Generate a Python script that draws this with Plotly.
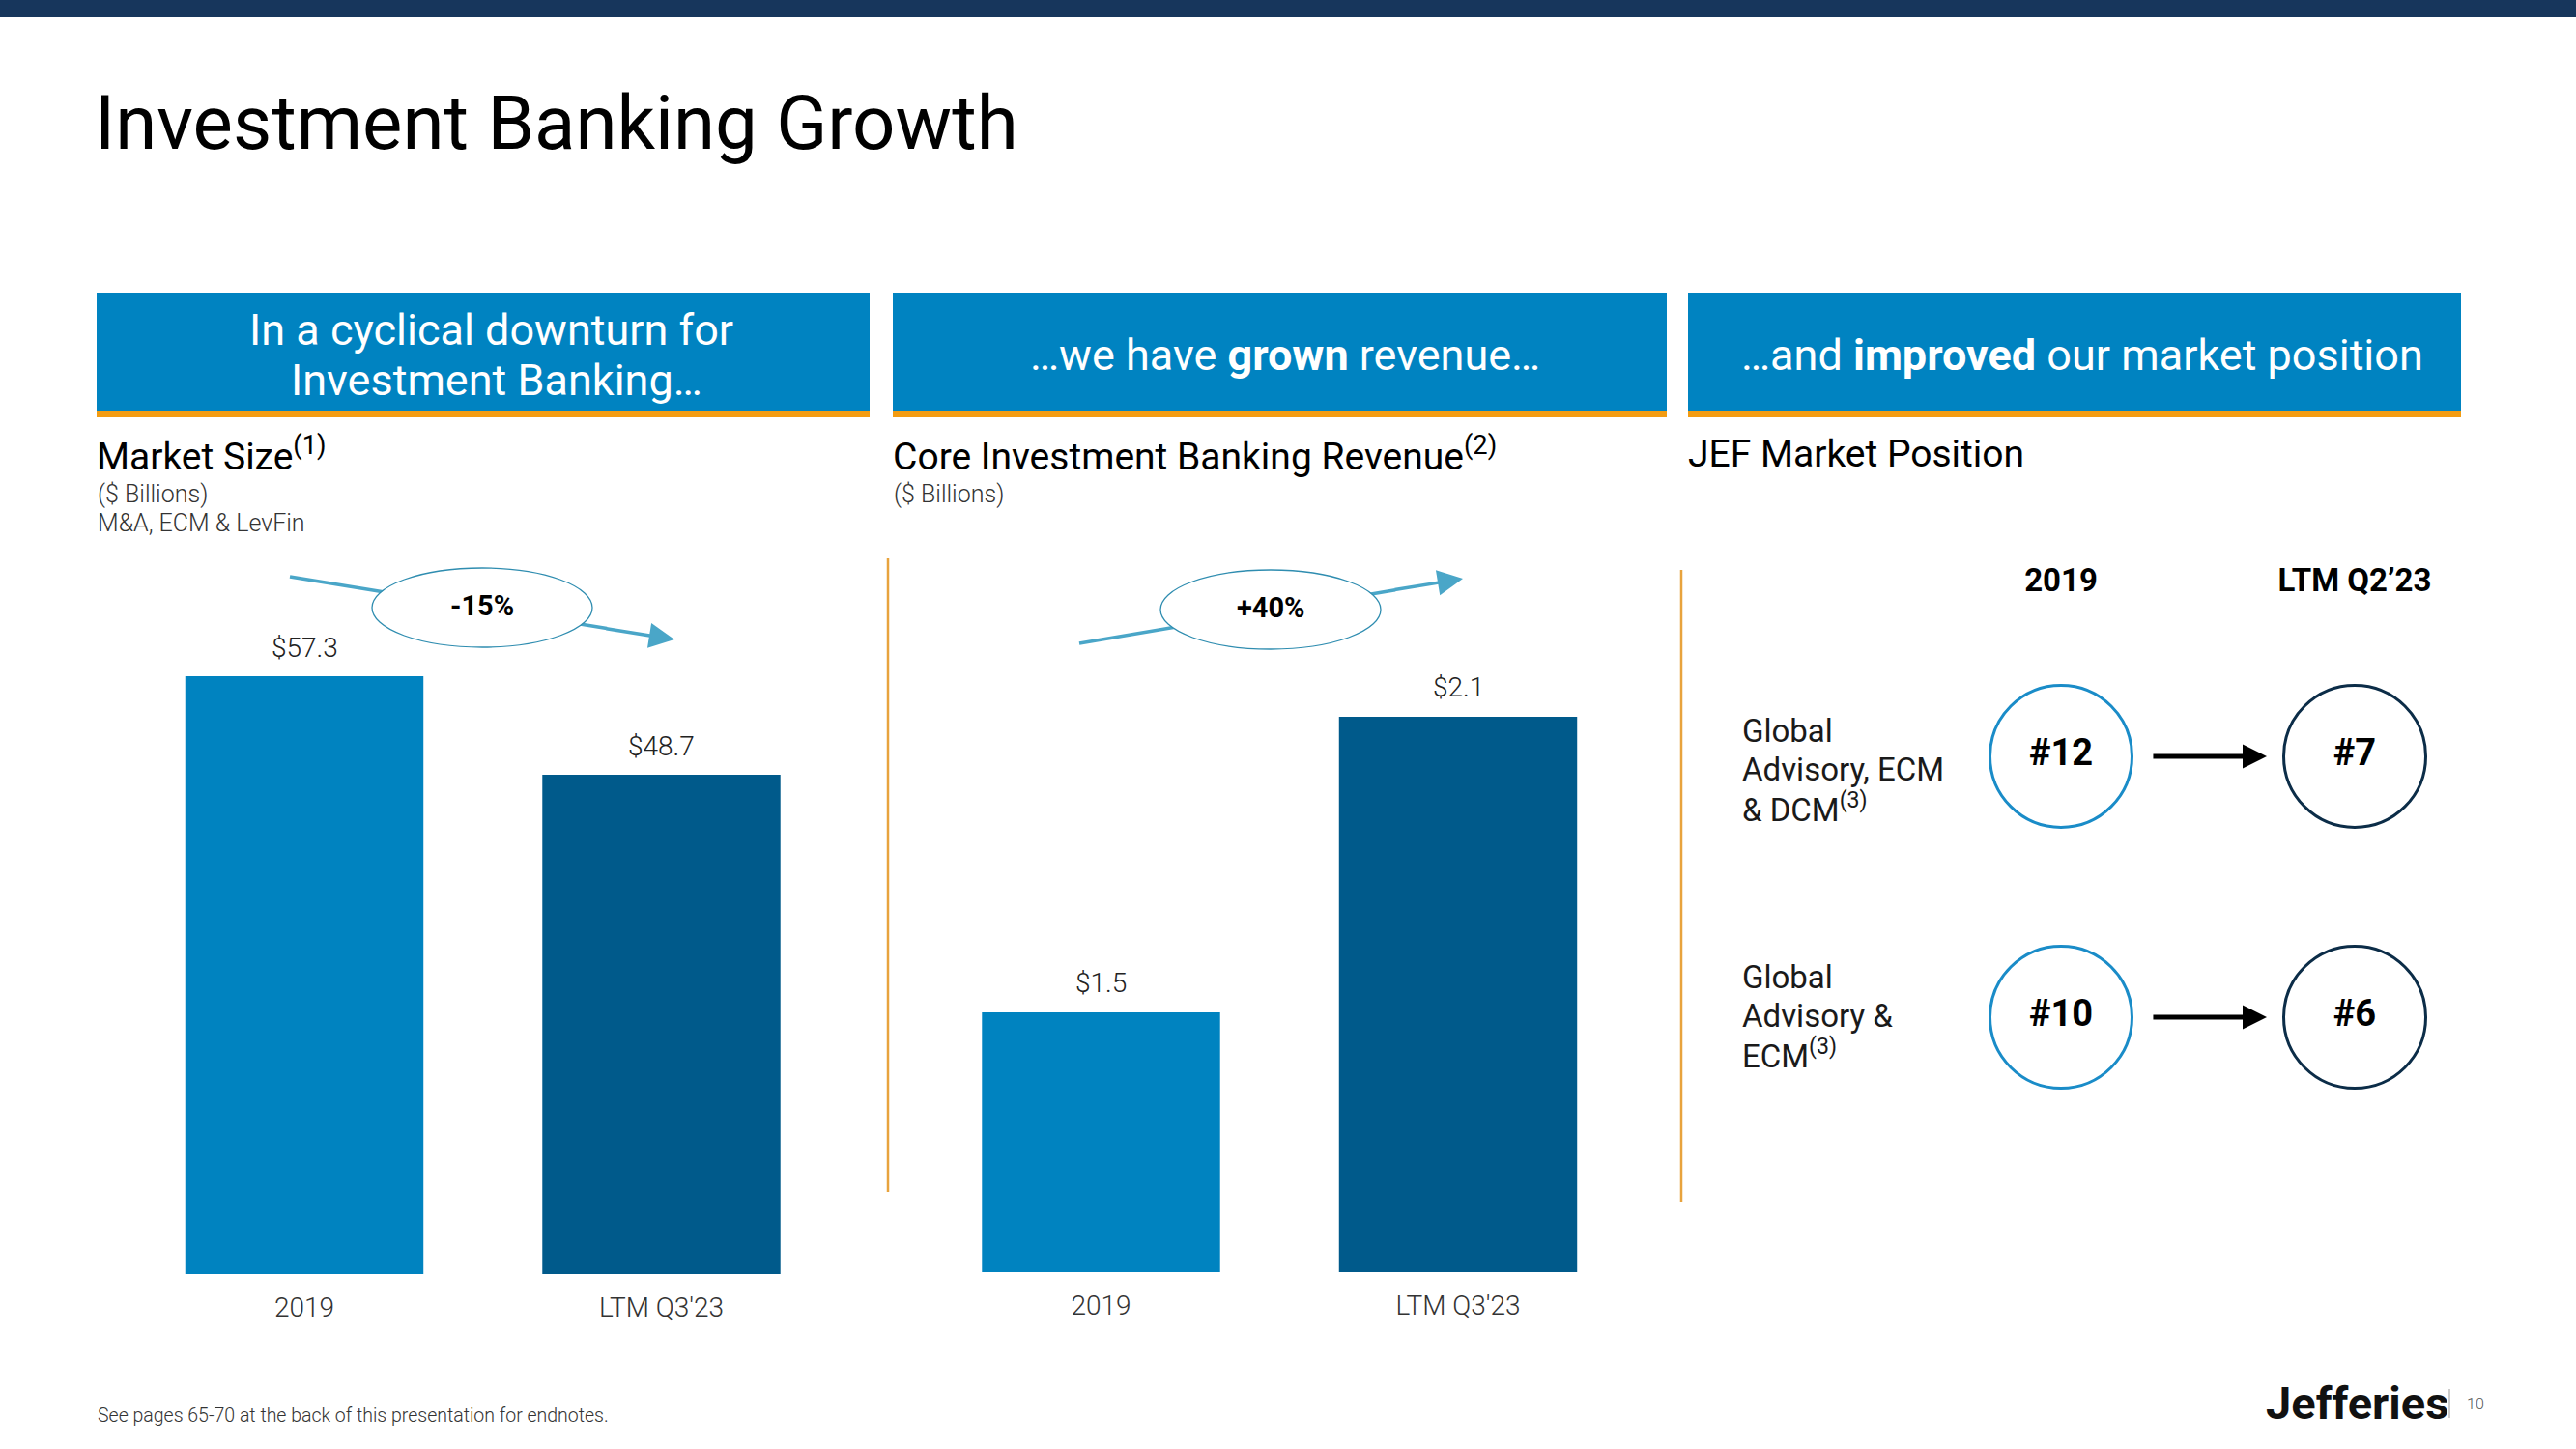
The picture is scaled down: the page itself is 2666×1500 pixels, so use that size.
import plotly.graph_objects as go

W, H = 2666, 1500

# ---------------- data ----------------
categories = ["2019", "LTM Q3'23"]
market_size = [57.3, 48.7]          # $ Billions, M&A, ECM & LevFin
core_ib_revenue = [1.5, 2.1]        # $ Billions
market_change = "-15%"
revenue_change = "+40%"

rank_periods = ["2019", "LTM Q2\u201923"]
rank_rows = [["Global", "Advisory, ECM", "& DCM<sup>(3)</sup>"],
             ["Global", "Advisory &", "ECM<sup>(3)</sup>"]]
rank_2019 = [12, 10]
rank_ltm = [7, 6]

# ---------------- styles ----------------
FONT = "Roboto"
LIGHT_BLUE = "#0083C0"
DARK_BLUE = "#005A8B"
HEADER_BLUE = "#0083C1"
ORANGE = "#F39C12"
DIVIDER = "#E8A33D"
NAVY = "#17365C"
TEAL = "#4AA6C8"


def px(x):
    return x / W


def py(y):
    return 1 - y / H


fig = go.Figure()
pos = list(range(len(categories)))

# ---------------- bar charts ----------------
fig.add_trace(go.Bar(x=pos, y=market_size, width=0.667,
                     marker=dict(color=[LIGHT_BLUE, DARK_BLUE], line=dict(width=0)),
                     xaxis="x", yaxis="y", hoverinfo="skip", showlegend=False))
fig.add_trace(go.Bar(x=pos, y=core_ib_revenue, width=0.667,
                     marker=dict(color=[LIGHT_BLUE, DARK_BLUE], line=dict(width=0)),
                     xaxis="x2", yaxis="y2", hoverinfo="skip", showlegend=False))

annotations = []
lab_font = dict(family=FONT, size=28, color="#222", weight=300)
for p, v in zip(pos, market_size):
    annotations.append(dict(x=p, y=v, xref="x", yref="y", text=f"${v:.1f}", showarrow=False,
                            xanchor="center", yanchor="middle", yshift=30, font=lab_font))
for p, v in zip(pos, core_ib_revenue):
    annotations.append(dict(x=p, y=v, xref="x2", yref="y2", text=f"${v:.1f}", showarrow=False,
                            xanchor="center", yanchor="middle", yshift=30, font=lab_font))

# ---------------- rank panel ----------------
rpos = list(range(len(rank_periods)))
rows = list(range(len(rank_rows)))
for col, ranks, edge in [(0, rank_2019, "#1A8CC8"), (1, rank_ltm, "#0C2D48")]:
    fig.add_trace(go.Scatter(x=[rpos[col]] * len(ranks), y=rows,
                             mode="markers+text", text=[f"#{r}" for r in ranks],
                             textposition="middle center",
                             textfont=dict(family=FONT, size=38, color="#000", weight=700),
                             marker=dict(size=147, color="white", line=dict(color=edge, width=3)),
                             xaxis="x3", yaxis="y3", hoverinfo="skip", showlegend=False, cliponaxis=False))

row_shift = [14, -1]
for i, lines in zip(rows, rank_rows):
    n = len(lines)
    for k, line in enumerate(lines):
        offset = row_shift[i] + (k - (n - 1) / 2) * 40
        annotations.append(dict(x=px(1801), y=i, xref="paper", yref="y3", text=line, showarrow=False,
                                xanchor="left", yanchor="middle", align="left", yshift=-offset,
                                font=dict(family=FONT, size=33, color="#1a1a1a")))
    annotations.append(dict(x=0.7007, y=i, xref="x3", yref="y3", ax=0.309, ay=i, axref="x3", ayref="y3",
                            text="", showarrow=True, arrowhead=2, arrowsize=1.0, arrowwidth=5,
                            arrowcolor="#000"))

# ---------------- shapes ----------------
shapes = []
shapes.append(dict(type="rect", xref="paper", yref="paper", x0=0, x1=1, y0=py(18), y1=1,
                   fillcolor=NAVY, line=dict(width=0), layer="above"))
for x0, x1 in [(100, 900), (924, 1725), (1747, 2547)]:
    shapes.append(dict(type="rect", xref="paper", yref="paper", x0=px(x0), x1=px(x1), y0=py(425), y1=py(303),
                       fillcolor=HEADER_BLUE, line=dict(width=0)))
    shapes.append(dict(type="rect", xref="paper", yref="paper", x0=px(x0), x1=px(x1), y0=py(432), y1=py(425),
                       fillcolor=ORANGE, line=dict(width=0)))
shapes.append(dict(type="line", xref="paper", yref="paper", x0=px(919), x1=px(919), y0=py(578), y1=py(1234),
                   line=dict(color=DIVIDER, width=2.5)))
shapes.append(dict(type="line", xref="paper", yref="paper", x0=px(1740), x1=px(1740), y0=py(590), y1=py(1244),
                   line=dict(color=DIVIDER, width=2.5)))


def growth(x_start, y_start, x_tip, y_tip, cx, cy, label):
    slope = (y_tip - y_start) / (x_tip - x_start)
    xt = x_tip - 70
    yt = y_tip - 70 * slope
    shapes.append(dict(type="line", xref="paper", yref="paper", x0=px(x_start), y0=py(y_start),
                       x1=px(xt), y1=py(yt), line=dict(color=TEAL, width=3.5)))
    shapes.append(dict(type="circle", xref="paper", yref="paper", x0=px(cx - 114), x1=px(cx + 114),
                       y0=py(cy + 41), y1=py(cy - 41), fillcolor="white", line=dict(color="#2F8DB0", width=1.3)))
    annotations.append(dict(x=px(x_tip), y=py(y_tip), xref="paper", yref="paper", ax=-(x_tip - xt) - 2,
                            ay=(yt - y_tip), axref="pixel", ayref="pixel", text="", showarrow=True,
                            arrowhead=2, arrowsize=1.5, arrowwidth=3.5, arrowcolor=TEAL))
    annotations.append(dict(x=px(cx), y=py(cy - 2), xref="paper", yref="paper", text=f"<b>{label}</b>",
                            showarrow=False, xanchor="center", yanchor="middle",
                            font=dict(family=FONT, size=29, color="#000")))


growth(300, 597, 698, 662, 499, 629, market_change)
growth(1117, 666, 1514, 599, 1315, 631, revenue_change)

shapes.append(dict(type="line", xref="paper", yref="paper", x0=px(2535), x1=px(2535), y0=py(1468), y1=py(1438),
                   line=dict(color="#bbbbbb", width=1.5)))


# ---------------- texts ----------------
def txt(x, y, text, size, color="#000", anchor="left", weight=400):
    annotations.append(dict(x=px(x), y=py(y), xref="paper", yref="paper", text=text, showarrow=False,
                            xanchor=anchor, yanchor="middle", align=anchor,
                            font=dict(family=FONT, size=size, color=color, weight=weight)))


txt(96, 127, "Investment Banking Growth", 78)
txt(508, 341, "In a cyclical downturn for", 45, "white", "center")
txt(514, 394, "Investment Banking\u2026", 45, "white", "center")
txt(1330, 367, "\u2026we have <b>grown</b> revenue\u2026", 45, "white", "center")
txt(2155, 367, "\u2026and <b>improved</b> our market position", 45, "white", "center")
txt(98, 470, "Market Size<sup>(1)</sup>", 39)
txt(99, 511, "($ Billions)", 25, "#333", weight=300)
txt(99, 541, "M&A, ECM & LevFin", 25, "#333", weight=300)
txt(922, 470, "Core Investment Banking Revenue<sup>(2)</sup>", 39)
txt(923, 511, "($ Billions)", 25, "#333", weight=300)
txt(1745, 470, "JEF Market Position", 39)
txt(99, 1465, "See pages 65-70 at the back of this presentation for endnotes.", 19.5, "#333", weight=300)
txt(2343, 1452, "Jefferies", 47, "#111", weight=700)
txt(2551, 1453, "10", 16, "#555", weight=300)

# ---------------- layout ----------------
axis_font = dict(family=FONT, size=28, color="#333", weight=300)
common_x = dict(showgrid=False, zeroline=False, showline=False, ticks="", tickfont=axis_font,
                tickmode="array", tickvals=pos, ticktext=categories, range=[-0.5, 1.5],
                ticklabelstandoff=15, fixedrange=True)
fig.update_layout(
    width=W, height=H, margin=dict(l=0, r=0, t=0, b=0),
    paper_bgcolor="white", plot_bgcolor="white", showlegend=False,
    xaxis=dict(domain=[px(130.25), px(869.25)], anchor="y", **common_x),
    yaxis=dict(domain=[py(1319), py(560)], anchor="x", range=[5.11, 69.11], visible=False, fixedrange=True),
    xaxis2=dict(domain=[px(954.75), px(1693.75)], anchor="y2", **common_x),
    yaxis2=dict(domain=[py(1317), py(560)], anchor="x2", range=[0.9725, 2.4568], visible=False, fixedrange=True),
    xaxis3=dict(domain=[px(1747), px(2547)], anchor="y3", side="top",
                tickmode="array", tickvals=rpos, ticktext=rank_periods,
                range=[-1.2697, 1.3618], showgrid=False, zeroline=False, showline=False, ticks="",
                tickfont=dict(family=FONT, size=33, color="#000", weight=700), ticklabelstandoff=5,
                fixedrange=True),
    yaxis3=dict(domain=[py(1250), py(625)], anchor="x3", range=[1.7296, -0.585], visible=False, fixedrange=True),
    shapes=shapes, annotations=annotations,
)

fig.write_html("out.html", config={"displayModeBar": False},
               post_script="document.body.style.margin='0';document.body.style.padding='0';")
